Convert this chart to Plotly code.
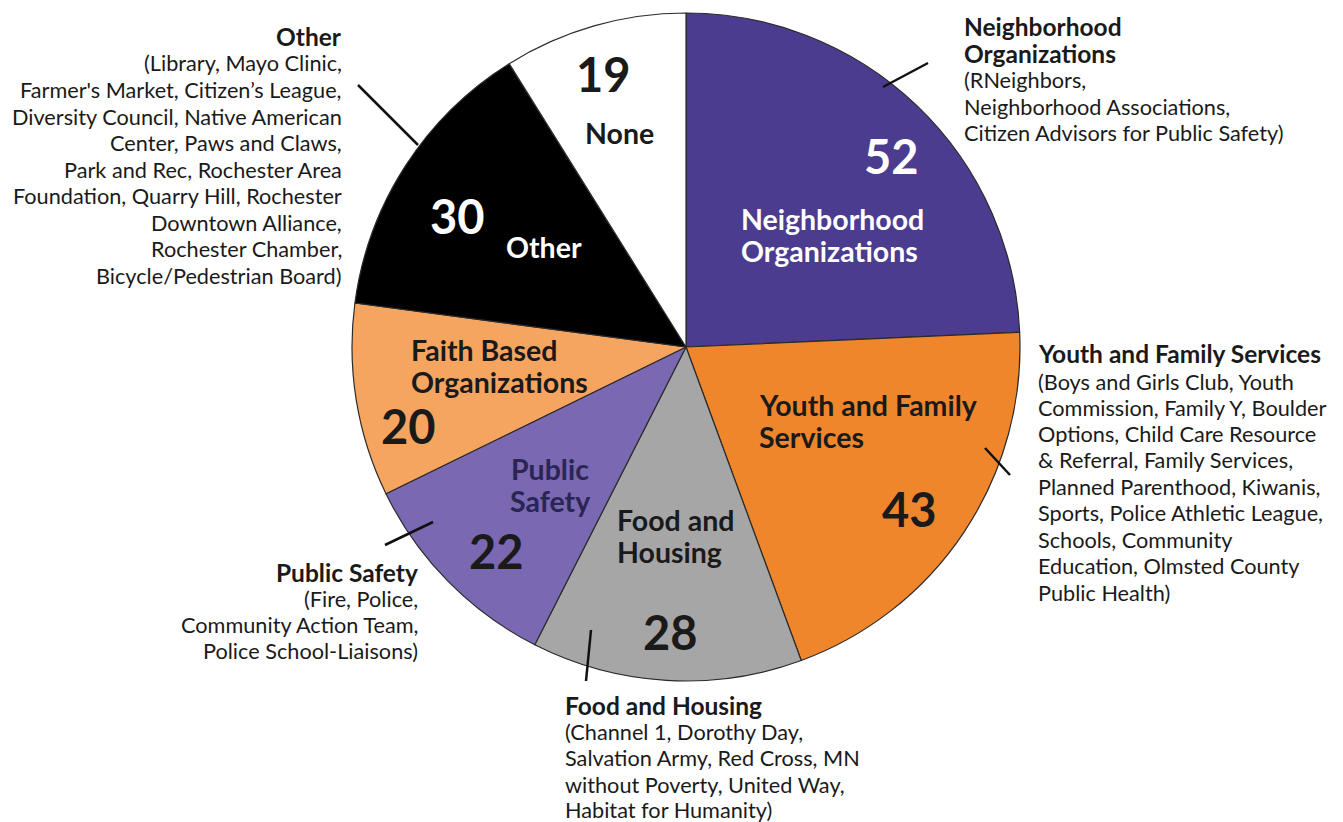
import plotly.graph_objects as go

# ---- data ----
categories = ["Neighborhood Organizations", "Youth and Family Services", "Food and Housing",
              "Public Safety", "Faith Based Organizations", "Other", "None"]
values = [52, 43, 28, 22, 20, 30, 19]
colors = ["#4B3C8F", "#F0862C", "#A6A6A6", "#7A68B2", "#F6A560", "#000000", "#FFFFFF"]

inner_name_lines = [["Neighborhood", "Organizations"], ["Youth and Family", "Services"],
                    ["Food and", "Housing"], ["Public", "Safety"],
                    ["Faith Based", "Organizations"], ["Other"], ["None"]]

outside_title_lines = {
    "Neighborhood Organizations": ["Neighborhood", "Organizations"],
    "Youth and Family Services": ["Youth and Family Services"],
    "Food and Housing": ["Food and Housing"],
    "Public Safety": ["Public Safety"],
    "Other": ["Other"],
}
outside_details = {
    "Neighborhood Organizations": ["(RNeighbors,", "Neighborhood Associations,",
                                   "Citizen Advisors for Public Safety)"],
    "Youth and Family Services": ["(Boys and Girls Club, Youth", "Commission, Family Y, Boulder",
                                  "Options, Child Care Resource", "& Referral, Family Services,",
                                  "Planned Parenthood, Kiwanis,", "Sports, Police Athletic League,",
                                  "Schools, Community", "Education, Olmsted County", "Public Health)"],
    "Food and Housing": ["(Channel 1, Dorothy Day,", "Salvation Army, Red Cross, MN",
                         "without Poverty, United Way,", "Habitat for Humanity)"],
    "Public Safety": ["(Fire, Police,", "Community Action Team,", "Police School-Liaisons)"],
    "Other": ["(Library, Mayo Clinic,", "Farmer's Market, Citizen\u2019s League,",
              "Diversity Council, Native American", "Center, Paws and Claws,",
              "Park and Rec, Rochester Area", "Foundation, Quarry Hill, Rochester",
              "Downtown Alliance,", "Rochester Chamber,", "Bicycle/Pedestrian Board)"],
}

# ---- layout helpers (page has an 8px body margin) ----
W, H = 1343, 822
OFF = 8
FW, FH = W - 2 * OFF, H - OFF
FONT = "Lato"
def px(x): return (x - OFF) / FW
def py(y): return 1 - (y - OFF) / FH

fig = go.Figure(go.Pie(
    labels=categories, values=values, sort=False, direction="clockwise", rotation=0,
    marker=dict(colors=colors, line=dict(color="#2b2b2b", width=1.2)),
    textinfo="none", hoverinfo="label+value", showlegend=False,
    domain=dict(x=[px(352), px(1020)], y=[py(681), py(13)]),
))

ann = []
def add_text(x, y, text, size, color, anchor="center", bold=False):
    t = f"<b>{text}</b>" if bold else text
    ann.append(dict(x=px(x), y=py(y), xref="paper", yref="paper", text=t,
                    showarrow=False, xanchor=anchor, yanchor="middle",
                    font=dict(family=FONT, size=size, color=color)))

# inner labels (pixel positions)
inner_num_pos = [(892, 156), (909, 509), (670, 632), (496, 551), (408, 426), (457, 216), (603, 74)]
inner_name_x = [739, 757, 615, 550, 409, 544, 619]
inner_name_y = [[219, 251], [405, 437], [520, 552], [469, 501], [350, 382], [247], [133]]
inner_name_anchor = ["left", "left", "left", "center", "left", "center", "center"]
num_colors = ["#FFFFFF", "#1A1A1A", "#1A1A1A", "#1A1A1A", "#1A1A1A", "#FFFFFF", "#1A1A1A"]
name_colors = ["#FFFFFF", "#1A1A1A", "#1A1A1A", "#2A2552", "#1A1A1A", "#FFFFFF", "#1A1A1A"]

for i, v in enumerate(values):
    x, y = inner_num_pos[i]
    add_text(x, y, str(v), 47, num_colors[i], "center", True)
    for line, ly in zip(inner_name_lines[i], inner_name_y[i]):
        add_text(inner_name_x[i], ly, line, 28.5, name_colors[i], inner_name_anchor[i], True)

# outside labels: x, anchor, y-centres of every line
outside_pos = {
    "Neighborhood Organizations": (962, "left", [27, 53, 80, 107, 133]),
    "Youth and Family Services": (1036, "left", [353, 382, 408, 434, 460, 487, 513, 540, 566, 593]),
    "Food and Housing": (563, "left", [705, 732, 758, 785, 810]),
    "Public Safety": (420, "right", [572, 599, 625, 651]),
    "Other": (344, "right", [37, 63, 90, 117, 143, 170, 196, 223, 249, 276]),
}
for cat, (x, anchor, ys) in outside_pos.items():
    titles = outside_title_lines[cat]
    lines = [(t, True) for t in titles] + [(d, False) for d in outside_details[cat]]
    for (txt, bold), ly in zip(lines, ys):
        add_text(x, ly, txt, 24.5 if bold else 21.7, "#1A1A1A", anchor, bold)

# leader lines
leaders = [((883, 87), (928, 63)), ((985, 448), (1010, 475)), ((358, 85), (418, 145)),
           ((385, 545), (433, 522)), ((591, 630), (586, 681))]
shapes = [dict(type="line", xref="paper", yref="paper", x0=px(a[0]), y0=py(a[1]),
               x1=px(b[0]), y1=py(b[1]), line=dict(color="#111111", width=2.5))
          for a, b in leaders]

fig.update_layout(width=FW, height=FH, margin=dict(l=0, r=0, t=0, b=0),
                  paper_bgcolor="white", plot_bgcolor="white",
                  annotations=ann, shapes=shapes, font=dict(family=FONT))
fig.write_html("out.html")
